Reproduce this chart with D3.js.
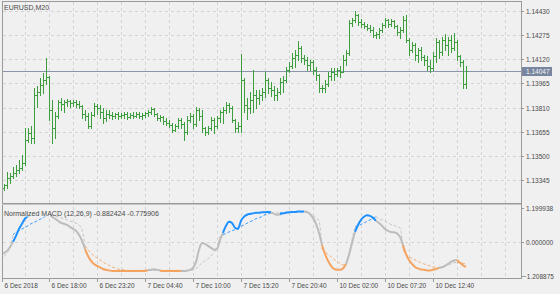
<!DOCTYPE html>
<html><head><meta charset="utf-8">
<script src="https://cdn.jsdelivr.net/npm/d3@7"></script>
<style>
html,body{margin:0;padding:0;background:#f0f0f0;}
svg{display:block;font-family:"Liberation Sans",Arial,sans-serif;}
</style></head><body>
<svg id="c" width="560" height="294"></svg>
<script>
// ---------------- DATA ----------------
const symbolTitle = "EURUSD,M20";
const indicatorTitle = "Normalized MACD (12,26,9) -0.882424 -0.775906";
const barStart = 1; // index of first bar in the visible window
const opens = [
1.13294,1.13313,1.13358,1.13371,1.13390,1.13409,1.13422,1.13454,1.13602,1.13647,
1.13615,1.13891,1.13910,1.13955,1.13987,1.14006,1.13794,1.13679,1.13756,1.13846,
1.13833,1.13846,1.13852,1.13839,1.13846,1.13833,1.13820,1.13769,1.13756,1.13692,
1.13762,1.13820,1.13807,1.13782,1.13743,1.13769,1.13762,1.13756,1.13769,1.13756,
1.13762,1.13769,1.13749,1.13762,1.13756,1.13769,1.13756,1.13762,1.13775,1.13782,
1.13801,1.13769,1.13743,1.13749,1.13724,1.13711,1.13698,1.13666,1.13692,1.13730,
1.13705,1.13653,1.13730,1.13756,1.13705,1.13794,1.13756,1.13679,1.13653,1.13679,
1.13730,1.13692,1.13743,1.13782,1.13794,1.13827,1.13807,1.13730,1.13679,1.13692,
1.13987,1.13827,1.13807,1.13859,1.13891,1.13871,1.13891,1.13910,1.13987,1.13936,
1.13923,1.13891,1.13910,1.13974,1.13987,1.14051,1.14077,1.14128,1.14148,1.14192,
1.14128,1.14115,1.14083,1.14103,1.14051,1.14019,1.13936,1.13936,1.13961,1.14013,
1.14038,1.14026,1.14051,1.14038,1.14115,1.14160,1.14353,1.14372,1.14404,1.14359,
1.14347,1.14334,1.14321,1.14308,1.14276,1.14282,1.14308,1.14340,1.14372,1.14347,
1.14366,1.14334,1.14295,1.14308,1.14372,1.14244,1.14180,1.14212,1.14148,1.14180,
1.14135,1.14115,1.14077,1.14064,1.14141,1.14231,1.14167,1.14244,1.14212,1.14244,
1.14192,1.14231,1.14141,1.14103,1.13961];
const highs = [
1.13319,1.13396,1.13390,1.13428,1.13441,1.13473,1.13506,1.13679,1.13679,1.13692,
1.13936,1.13948,1.14000,1.14032,1.14128,1.14013,1.13859,1.13782,1.13859,1.13871,
1.13859,1.13865,1.13859,1.13859,1.13859,1.13852,1.13827,1.13794,1.13775,1.13782,
1.13839,1.13833,1.13827,1.13807,1.13794,1.13794,1.13782,1.13775,1.13782,1.13775,
1.13782,1.13782,1.13775,1.13782,1.13782,1.13782,1.13775,1.13782,1.13794,1.13814,
1.13807,1.13775,1.13762,1.13756,1.13743,1.13730,1.13711,1.13705,1.13743,1.13743,
1.13717,1.13756,1.13775,1.13769,1.13814,1.13807,1.13794,1.13685,1.13692,1.13749,
1.13743,1.13756,1.13794,1.13814,1.13846,1.13839,1.13820,1.13737,1.13717,1.14154,
1.14000,1.13871,1.13910,1.14051,1.13923,1.13923,1.13936,1.14038,1.14000,1.13974,
1.13948,1.13936,1.14000,1.14013,1.14070,1.14103,1.14160,1.14180,1.14237,1.14205,
1.14148,1.14135,1.14115,1.14115,1.14070,1.14026,1.13955,1.13987,1.14038,1.14064,
1.14064,1.14064,1.14077,1.14148,1.14180,1.14372,1.14385,1.14430,1.14411,1.14379,
1.14359,1.14347,1.14340,1.14327,1.14295,1.14321,1.14353,1.14385,1.14379,1.14379,
1.14372,1.14340,1.14327,1.14398,1.14404,1.14257,1.14231,1.14225,1.14192,1.14199,
1.14148,1.14141,1.14115,1.14167,1.14257,1.14244,1.14263,1.14282,1.14263,1.14276,
1.14289,1.14244,1.14148,1.14115,1.14077];
const lows = [
1.13281,1.13294,1.13326,1.13358,1.13371,1.13390,1.13409,1.13441,1.13589,1.13583,
1.13583,1.13814,1.13891,1.13904,1.13961,1.13730,1.13583,1.13615,1.13743,1.13794,
1.13782,1.13820,1.13814,1.13820,1.13814,1.13807,1.13743,1.13730,1.13679,1.13679,
1.13756,1.13769,1.13743,1.13711,1.13724,1.13743,1.13737,1.13743,1.13737,1.13743,
1.13743,1.13737,1.13743,1.13743,1.13749,1.13743,1.13737,1.13749,1.13756,1.13769,
1.13756,1.13730,1.13724,1.13705,1.13698,1.13685,1.13653,1.13660,1.13679,1.13679,
1.13602,1.13640,1.13717,1.13679,1.13692,1.13730,1.13653,1.13634,1.13640,1.13666,
1.13647,1.13679,1.13717,1.13711,1.13775,1.13782,1.13717,1.13653,1.13653,1.13653,
1.13782,1.13737,1.13775,1.13782,1.13807,1.13833,1.13859,1.13878,1.13904,1.13884,
1.13859,1.13859,1.13897,1.13910,1.13974,1.14038,1.14064,1.14070,1.14115,1.14103,
1.14090,1.14051,1.14051,1.14026,1.13987,1.13910,1.13910,1.13910,1.13948,1.13987,
1.13987,1.14013,1.14006,1.14038,1.14083,1.14148,1.14334,1.14359,1.14340,1.14327,
1.14321,1.14308,1.14295,1.14263,1.14257,1.14257,1.14295,1.14327,1.14327,1.14334,
1.14321,1.14276,1.14257,1.14295,1.14231,1.14148,1.14167,1.14115,1.14103,1.14115,
1.14083,1.14051,1.14038,1.14051,1.14103,1.14128,1.14148,1.14180,1.14148,1.14167,
1.14180,1.14115,1.14077,1.13936,1.13936];
const closes = [
1.13313,1.13358,1.13371,1.13390,1.13409,1.13422,1.13454,1.13602,1.13647,1.13615,
1.13891,1.13910,1.13955,1.13987,1.14006,1.13794,1.13679,1.13756,1.13846,1.13833,
1.13846,1.13852,1.13839,1.13846,1.13833,1.13820,1.13769,1.13756,1.13692,1.13762,
1.13820,1.13807,1.13782,1.13743,1.13769,1.13762,1.13756,1.13769,1.13756,1.13762,
1.13769,1.13749,1.13762,1.13756,1.13769,1.13756,1.13762,1.13775,1.13782,1.13801,
1.13769,1.13743,1.13749,1.13724,1.13711,1.13698,1.13666,1.13692,1.13730,1.13705,
1.13653,1.13730,1.13756,1.13705,1.13794,1.13756,1.13679,1.13653,1.13679,1.13730,
1.13692,1.13743,1.13782,1.13794,1.13827,1.13807,1.13730,1.13679,1.13692,1.13987,
1.13827,1.13807,1.13859,1.13891,1.13871,1.13891,1.13910,1.13987,1.13936,1.13923,
1.13891,1.13910,1.13974,1.13987,1.14051,1.14077,1.14128,1.14148,1.14192,1.14128,
1.14115,1.14083,1.14103,1.14051,1.14019,1.13936,1.13936,1.13961,1.14013,1.14038,
1.14026,1.14051,1.14038,1.14115,1.14160,1.14353,1.14372,1.14404,1.14359,1.14347,
1.14334,1.14321,1.14308,1.14276,1.14282,1.14308,1.14340,1.14372,1.14347,1.14366,
1.14334,1.14295,1.14308,1.14372,1.14244,1.14180,1.14212,1.14148,1.14180,1.14135,
1.14115,1.14077,1.14064,1.14141,1.14231,1.14167,1.14244,1.14212,1.14244,1.14192,
1.14231,1.14141,1.14103,1.13961,1.14047];
const lastPrice = 1.14047;
const priceTicks = [1.14430,1.14275,1.14120,1.13965,1.13810,1.13655,1.13500,1.13345];

// Normalized MACD (index 0 .. 155)
const macd = [
-0.46,-0.39,-0.32,-0.18,0.00,0.21,0.46,0.64,0.82,0.92,
0.97,0.99,1.00,1.00,0.99,0.97,0.96,0.89,0.82,0.75,
0.67,0.64,0.60,0.53,0.46,0.39,0.25,0.04,-0.25,-0.50,
-0.67,-0.78,-0.85,-0.90,-0.96,-0.99,-1.01,-1.03,-1.03,-1.03,
-1.03,-1.03,-1.03,-1.03,-1.03,-1.03,-1.03,-1.03,-1.03,-1.00,
-0.99,-0.97,-0.99,-1.02,-1.03,-1.03,-1.03,-1.03,-1.03,-1.03,
-1.03,-1.03,-1.02,-0.99,-0.92,-0.71,-0.28,-0.04,-0.07,-0.14,
-0.21,-0.28,-0.25,0.07,0.32,0.57,0.71,0.67,0.50,0.46,
0.75,0.89,0.96,0.99,1.01,1.03,1.03,1.05,1.05,1.06,
1.05,0.99,0.96,0.98,1.01,1.03,1.05,1.06,1.06,1.08,
1.08,1.08,1.06,0.99,0.85,0.64,0.32,-0.11,-0.43,-0.67,
-0.85,-0.96,-0.99,-0.99,-0.94,-0.78,-0.46,-0.04,0.35,0.60,
0.78,0.89,0.94,0.92,0.85,0.75,0.67,0.57,0.46,0.39,
0.35,0.34,0.30,0.18,-0.11,-0.43,-0.64,-0.78,-0.89,-0.94,
-0.98,-0.99,-1.01,-1.01,-0.99,-0.96,-0.92,-0.90,-0.85,-0.78,
-0.71,-0.66,-0.64,-0.74,-0.83,-0.882424];
const signal = [
-0.64,-0.53,-0.39,-0.25,0.25,0.34,0.39,0.46,0.51,0.57,
0.64,0.69,0.74,0.80,0.85,0.92,0.96,0.94,0.90,0.89,
0.85,0.82,0.78,0.74,0.71,0.66,0.60,0.43,-0.14,-0.28,
-0.39,-0.50,-0.57,-0.64,-0.71,-0.78,-0.83,-0.89,-0.92,-0.96,
-0.98,-0.99,-1.01,-1.01,-1.01,-1.01,-1.01,-1.01,-1.01,-1.01,
-1.01,-1.01,-1.01,-1.01,-1.01,-1.01,-1.01,-1.01,-1.01,-1.01,
-1.01,-1.01,-1.01,-1.01,-0.99,-0.96,-0.85,-0.74,-0.67,-0.60,
-0.50,-0.35,-0.25,0.18,0.25,0.30,0.35,0.39,0.44,0.50,
0.55,0.60,0.66,0.71,0.76,0.82,0.85,0.90,0.96,0.99,
1.03,1.03,1.03,1.03,1.03,1.05,1.05,1.06,1.06,1.06,
1.06,1.06,1.06,0.99,0.92,0.85,0.74,-0.25,-0.35,-0.44,
-0.53,-0.62,-0.69,-0.76,-0.82,-0.82,-0.46,0.07,0.53,0.57,
0.62,0.67,0.73,0.78,0.83,0.90,0.82,0.78,0.73,0.67,
0.62,0.59,0.53,0.50,-0.28,-0.46,-0.53,-0.59,-0.64,-0.69,
-0.74,-0.78,-0.82,-0.85,-0.89,-0.90,-0.92,-0.89,-0.85,-0.82,
-0.78,-0.74,-0.73,-0.74,-0.76,-0.775906];
// colour state of the indicator: [from index, to index, state]
const stateSegments = [
[0,4,"flat"],[4,15,"up"],[15,28,"flat"],[28,49,"down"],[49,53,"flat"],[53,60,"down"],
[60,74,"flat"],[74,90,"up"],[90,93,"flat"],[93,101,"up"],[101,107,"flat"],[107,115,"down"],
[115,118,"flat"],[118,125,"up"],[125,134,"flat"],[134,146,"down"],[146,152,"flat"],[152,155,"down"]];
const macdTicks = [1.199938, 0, -1.208875];
const timeTickIndex = [0,16,32,48,64,80,96,112,128,144];
const timeTickLabels = ["6 Dec 2018","6 Dec 18:00","6 Dec 23:20","7 Dec 04:40","7 Dec 10:00",
  "7 Dec 15:20","7 Dec 20:40","10 Dec 02:00","10 Dec 07:20","10 Dec 12:40"];
const visibleSlots = 173;
const gridEvery = 8;

[opens,highs,lows].forEach(a=>{ if(a.length!==closes.length) throw new Error("bar array length "+a.length+" vs "+closes.length); });
if (macd.length!==signal.length) throw new Error("macd "+macd.length+" signal "+signal.length);

// ---------------- STYLE / LAYOUT ----------------
const C = {frame:"#9a9a9a", grid:"#d4d4d4", text:"#4a4a4a", bar:"#3c9e3c",
  priceLine:"#8a94aa", label:"#7886a0", up:"#1e90ff", down:"#f4a460", flat:"#bdbdbd"};
const L = {left:2, right:521, mainTop:1, mainBottom:203, indTop:206, indBottom:278};
const svg = d3.select("#c");
const x = d3.scaleLinear().domain([0, visibleSlots]).range([1, 520]);
const yP = d3.scaleLinear().domain([1.13345, 1.14430]).range([180, 11]);
const yM = d3.scaleLinear().domain([-1.208875, 1.199938]).range([276, 208]);

const defs = svg.append("defs");
defs.append("clipPath").attr("id","clipMain").append("rect")
  .attr("x",L.left+0.5).attr("y",L.mainTop+0.5).attr("width",L.right-L.left-1).attr("height",L.mainBottom-L.mainTop-1);
defs.append("clipPath").attr("id","clipInd").append("rect")
  .attr("x",L.left+0.5).attr("y",L.indTop+0.5).attr("width",L.right-L.left-1).attr("height",L.indBottom-L.indTop-1);

// grid
const gridX = d3.range(gridEvery, visibleSlots, gridEvery).map(i=>Math.round(x(i))+0.5).filter(v=>v<L.right-1);
const grid = svg.append("g").attr("stroke",C.grid).attr("stroke-dasharray","3,3").attr("shape-rendering","crispEdges");
gridX.forEach(gx=>{
  grid.append("line").attr("x1",gx).attr("x2",gx).attr("y1",L.mainTop+1).attr("y2",L.mainBottom);
  grid.append("line").attr("x1",gx).attr("x2",gx).attr("y1",L.indTop+1).attr("y2",L.indBottom);
});
priceTicks.forEach(p=>{
  const gy = Math.round(yP(p))+0.5;
  grid.append("line").attr("x1",L.left+1).attr("x2",L.right).attr("y1",gy).attr("y2",gy);
});
{
  const gy = Math.round(yM(0))+0.5;
  grid.append("line").attr("x1",L.left+1).attr("x2",L.right).attr("y1",gy).attr("y2",gy);
}

// current price line
const lpY = Math.round(yP(lastPrice))+0.5;
svg.append("line").attr("x1",L.left).attr("x2",L.right).attr("y1",lpY).attr("y2",lpY)
  .attr("stroke",C.priceLine).attr("shape-rendering","crispEdges");

// OHLC bars
const barData = closes.map((c,k)=>({i:k+barStart,o:opens[k],h:highs[k],l:lows[k],c:c}));
const bars = svg.append("g").attr("clip-path","url(#clipMain)").attr("stroke",C.bar)
  .attr("shape-rendering","crispEdges");
const bg = bars.selectAll("g").data(barData).join("g");
bg.append("line")
  .attr("x1",d=>Math.round(x(d.i))+0.5).attr("x2",d=>Math.round(x(d.i))+0.5)
  .attr("y1",d=>Math.round(yP(d.h))).attr("y2",d=>Math.round(yP(d.l))+1);
bg.append("line")
  .attr("x1",d=>Math.round(x(d.i))-1).attr("x2",d=>Math.round(x(d.i)))
  .attr("y1",d=>Math.round(yP(d.o))+0.5).attr("y2",d=>Math.round(yP(d.o))+0.5);
bg.append("line")
  .attr("x1",d=>Math.round(x(d.i))+1).attr("x2",d=>Math.round(x(d.i))+2)
  .attr("y1",d=>Math.round(yP(d.c))+0.5).attr("y2",d=>Math.round(yP(d.c))+0.5);

// indicator lines
const ind = svg.append("g").attr("clip-path","url(#clipInd)");
const lineM = d3.line().x(i=>x(i)).y(i=>yM(macd[i])).curve(d3.curveMonotoneX);
const lineS = d3.line().x(i=>x(i)).y(i=>yM(signal[i])).curve(d3.curveMonotoneX);
stateSegments.forEach(([a,b,s])=>{
  ind.append("path").attr("d",lineS(d3.range(a,b+1))).attr("fill","none")
    .attr("stroke",C[s]).attr("stroke-width",1).attr("stroke-dasharray","3,2").attr("opacity",0.85);
});
stateSegments.forEach(([a,b,s])=>{
  ind.append("path").attr("d",lineM(d3.range(a,b+1))).attr("fill","none")
    .attr("stroke",C[s]).attr("stroke-width",2).attr("stroke-linejoin","round");
});

// frames
const fr = svg.append("g").attr("stroke",C.frame).attr("fill","none").attr("shape-rendering","crispEdges");
fr.append("rect").attr("x",L.left+0.5).attr("y",L.mainTop+0.5).attr("width",L.right-L.left).attr("height",L.mainBottom-L.mainTop);
fr.append("rect").attr("x",L.left+0.5).attr("y",L.indTop-1.5).attr("width",L.right-L.left).attr("height",L.indBottom-L.indTop+1.5);
fr.append("line").attr("x1",L.left).attr("x2",L.right).attr("y1",L.mainBottom+1.5).attr("y2",L.mainBottom+1.5).attr("stroke","#c4c4c4");

// price axis
const axT = svg.append("g").attr("font-size","6.5px").attr("fill",C.text);
priceTicks.forEach(p=>{
  const ty = Math.round(yP(p))+0.5;
  svg.append("line").attr("x1",L.right).attr("x2",L.right+3).attr("y1",ty).attr("y2",ty)
    .attr("stroke",C.frame).attr("shape-rendering","crispEdges");
  axT.append("text").attr("x",L.right+5).attr("y",ty).attr("dy","0.35em").text(d3.format(".5f")(p));
});
// current price label
svg.append("rect").attr("x",L.right+1).attr("y",lpY-4.5).attr("width",30).attr("height",9).attr("fill",C.label);
svg.append("text").attr("x",L.right+5).attr("y",lpY).attr("dy","0.35em").attr("font-size","6.5px")
  .attr("fill","#f4f4f4").text(d3.format(".5f")(lastPrice));

// indicator axis
macdTicks.forEach(v=>{
  const ty = Math.round(yM(v))+0.5;
  svg.append("line").attr("x1",L.right).attr("x2",L.right+3).attr("y1",ty).attr("y2",ty)
    .attr("stroke",C.frame).attr("shape-rendering","crispEdges");
  axT.append("text").attr("x",v<0?L.right+2:L.right+5).attr("y",ty).attr("dy","0.35em").text(d3.format(".6f")(v));
});

// time axis
timeTickIndex.forEach((ti,k)=>{
  const tx = Math.max(L.left, Math.round(x(ti)))+0.5;
  svg.append("line").attr("x1",tx).attr("x2",tx).attr("y1",L.indBottom).attr("y2",L.indBottom+4)
    .attr("stroke",C.frame).attr("shape-rendering","crispEdges");
  axT.append("text").attr("x",tx+2).attr("y",L.indBottom+10).text(timeTickLabels[k]);
});

// titles
svg.append("text").attr("x",4).attr("y",9.5).attr("font-size","7px").attr("fill",C.text).text(symbolTitle);
svg.append("rect").attr("x",L.left+1).attr("y",L.indTop+1).attr("width",47).attr("height",9.5).attr("fill","#f0f0f0");
svg.append("text").attr("x",4).attr("y",L.indTop+9.5).attr("font-size","7px").attr("fill",C.text).text(indicatorTitle);
</script>
</body></html>
